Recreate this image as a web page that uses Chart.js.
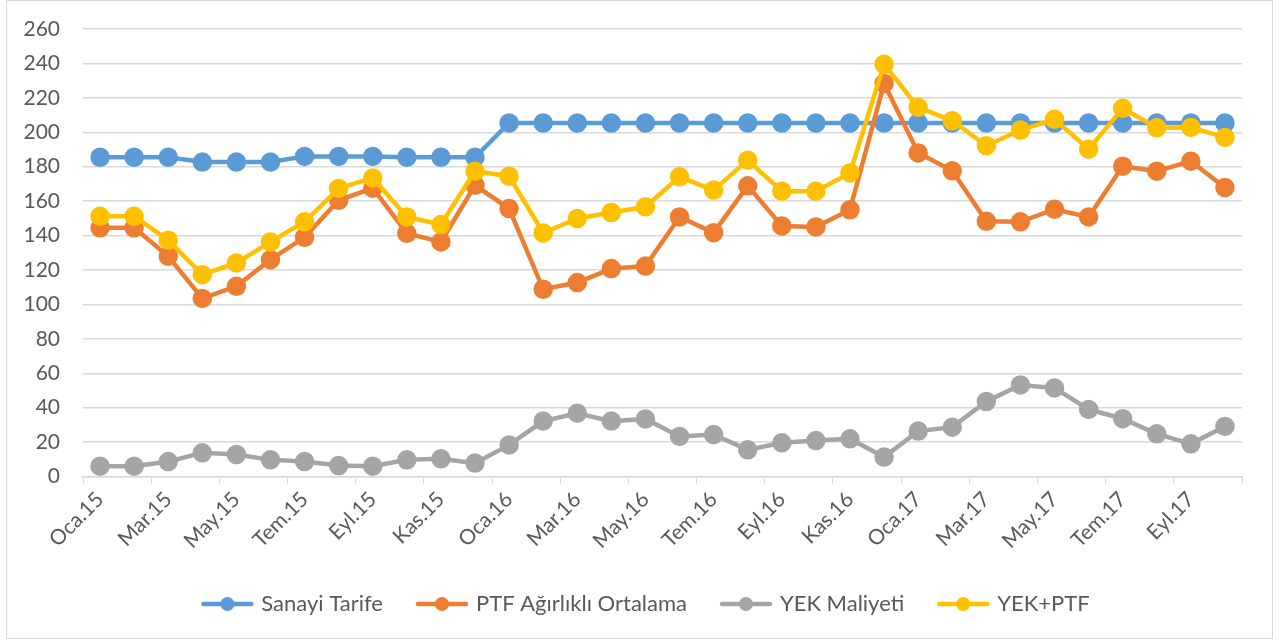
<!DOCTYPE html>
<html>
<head>
<meta charset="utf-8">
<script src="https://cdn.jsdelivr.net/npm/chart.js@4"></script>
<style>
  html, body { margin: 0; padding: 0; background: #fff; }
  #wrap { position: relative; width: 1279px; height: 642px; }
  #frame { position: absolute; left: 6px; top: 0; width: 1265px; height: 637px; border: 1px solid #d9d9d9; pointer-events: none; }
</style>
</head>
<body>
<div id="wrap">
  <canvas id="chart" width="1279" height="642"></canvas>
  <div id="frame"></div>
</div>
<script>
// months Jan 2015 - Oct 2017
const months = ['Oca.15','Şub.15','Mar.15','Nis.15','May.15','Haz.15','Tem.15','Ağu.15','Eyl.15','Eki.15','Kas.15','Ara.15',
  'Oca.16','Şub.16','Mar.16','Nis.16','May.16','Haz.16','Tem.16','Ağu.16','Eyl.16','Eki.16','Kas.16','Ara.16',
  'Oca.17','Şub.17','Mar.17','Nis.17','May.17','Haz.17','Tem.17','Ağu.17','Eyl.17','Eki.17'];

const sanayiTarife = [185.5,185.5,185.5,182.7,182.7,182.7,186,186,186,185.5,185.5,185.5,
  205.4,205.4,205.4,205.4,205.4,205.4,205.4,205.4,205.4,205.4,205.4,205.4,
  205.4,205.4,205.4,205.4,205.4,205.4,205.4,205.4,205.4,205.4];
const ptfOrtalama = [144.5,144.5,128,103.5,110.5,126,139,160.5,167.5,141.3,136.3,169.2,
  155.7,108.8,112.7,120.8,122.3,150.8,141.7,168.9,145.6,145,155,228.4,
  188,177.6,148.3,148,155.3,150.8,180.3,177.4,183.2,167.9];
const yekMaliyeti = [6,6,8.7,13.8,12.8,9.7,8.7,6.4,6,9.7,10.3,7.8,
  18.4,32.2,36.8,32.2,33.5,23.3,24.4,15.5,19.6,20.9,21.9,11.3,
  26.4,28.7,43.6,53.2,51.5,39,33.6,24.8,19,29.1];
const yekPtf = [151.2,151.2,137.3,117.3,124.1,136.3,148,167.4,173.5,150.8,146.4,177.4,
  174.5,141.5,149.9,153.4,156.7,174.1,166.4,183.8,165.8,165.8,176.4,239.5,
  214.5,206.7,192.2,201.3,207.5,190.2,213.9,202.6,202.8,197];

const seriesNames = ['Sanayi Tarife','PTF Ağırlıklı Ortalama','YEK Maliyeti','YEK+PTF'];
const seriesColors = ['#5B9BD5','#ED7D31','#A5A5A5','#FFC000'];
const yMin = 0, yMax = 260, yStep = 20;

const FONT = 'Lato';
const TEXT = '#595959';
const GRID = '#d9d9d9';

// legend icon: line with a dot, like excel
function legendIcon(color) {
  const c = document.createElement('canvas');
  c.width = 54; c.height = 16;
  const g = c.getContext('2d');
  g.strokeStyle = color; g.lineWidth = 4.5; g.lineCap = 'round';
  g.beginPath(); g.moveTo(3, 8); g.lineTo(51, 8); g.stroke();
  g.fillStyle = color;
  g.beginPath(); g.arc(27, 8, 7, 0, Math.PI * 2); g.fill();
  return c;
}

const allData = [sanayiTarife, ptfOrtalama, yekMaliyeti, yekPtf];
const datasets = allData.map((d, i) => ({
  label: seriesNames[i],
  data: d,
  borderColor: seriesColors[i],
  backgroundColor: seriesColors[i],
  pointBackgroundColor: seriesColors[i],
  pointBorderColor: seriesColors[i],
  borderWidth: 4.5,
  pointRadius: 7.5,
  pointHoverRadius: 7.5,
  tension: 0,
  order: 3 - i // later series drawn on top
}));

new Chart(document.getElementById('chart'), {
  type: 'line',
  data: { labels: months, datasets: datasets },
  options: {
    responsive: false,
    animation: false,
    layout: { padding: { left: 15, right: 0, top: 29, bottom: 17 } },
    plugins: {
      tooltip: { enabled: false },
      legend: {
        position: 'bottom',
        labels: {
          usePointStyle: true,
          pointStyleWidth: 46,
          padding: 36,
          color: TEXT,
          font: { family: FONT, size: 22 },
          generateLabels: (chart) => chart.data.datasets.map((ds, i) => ({
            text: ds.label,
            fontColor: TEXT,
            pointStyle: legendIcon(ds.borderColor),
            lineWidth: 0,
            datasetIndex: i,
            hidden: false
          }))
        }
      }
    },
    scales: {
      x: {
        offset: true,
        grid: {
          offset: true,
          drawOnChartArea: false,
          drawTicks: true,
          tickLength: 7,
          color: (ctx) => (ctx.index === undefined || ctx.index % 2 === 0) ? GRID : 'rgba(0,0,0,0)'
        },
        border: { display: true, color: GRID, width: 1.5 },
        ticks: {
          autoSkip: false,
          minRotation: 45,
          maxRotation: 45,
          color: TEXT,
          font: { family: FONT, size: 21 },
          padding: 3.5,
          callback: function (val, idx) { return idx % 2 === 0 ? this.getLabelForValue(val) : ''; }
        }
      },
      y: {
        min: yMin,
        max: yMax,
        afterFit: (scale) => { scale.width = 68; },
        grid: { color: GRID, lineWidth: 1.5, drawTicks: true, tickLength: 23, tickColor: 'rgba(0,0,0,0)' },
        border: { display: false },
        ticks: {
          stepSize: yStep,
          padding: 0,
          color: TEXT,
          font: { family: FONT, size: 21 }
        }
      },
      // empty right-hand spacer so the plot ends where the original does
      spacer: {
        type: 'linear',
        position: 'right',
        afterFit: (scale) => { scale.width = 37; },
        grid: { display: false },
        border: { display: false },
        ticks: { display: false, padding: 0 }
      }
    }
  }
});
</script>
</body>
</html>
